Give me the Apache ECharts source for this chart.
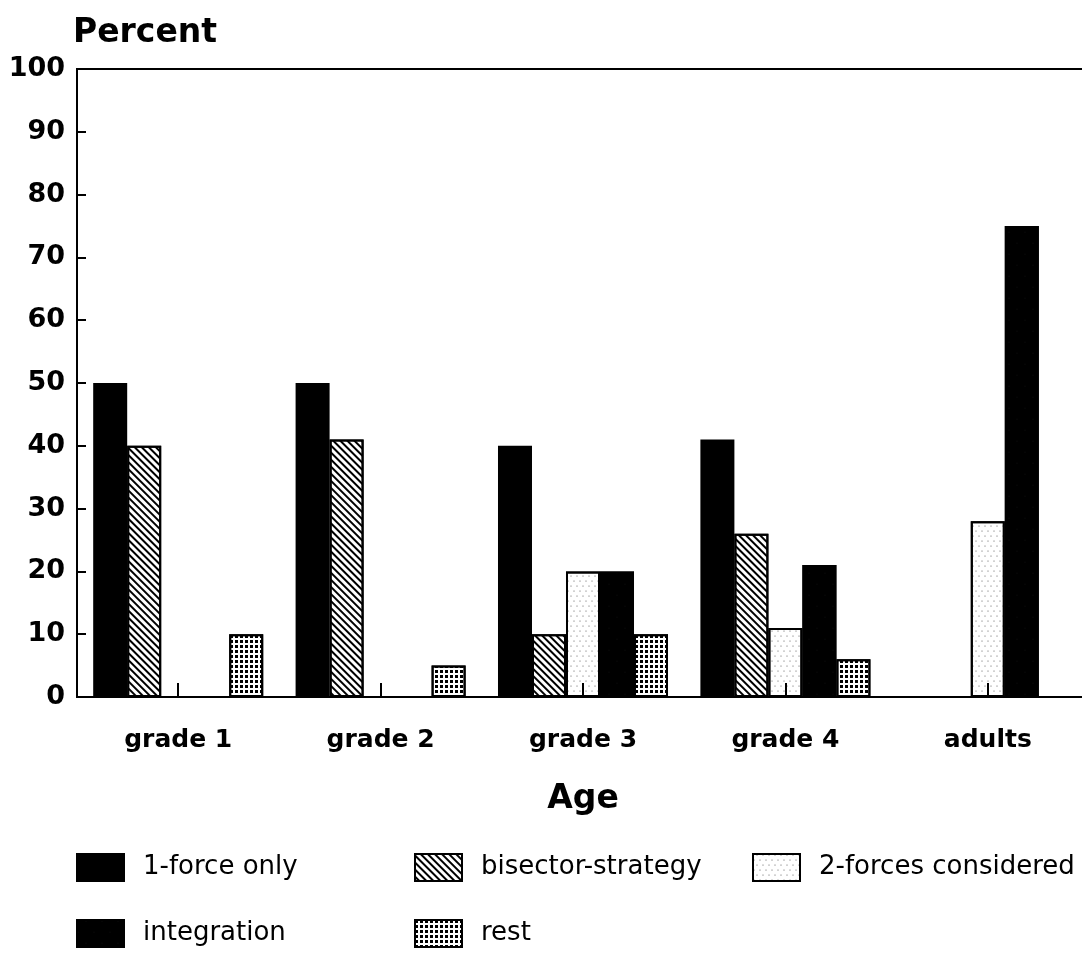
<!DOCTYPE html>
<html>
<head>
<meta charset="utf-8">
<script src="https://cdn.jsdelivr.net/npm/echarts@6/dist/echarts.min.js"></script>
<style>
  html, body { margin: 0; padding: 0; background: #fff; }
  #chart { width: 1082px; height: 957px; }
</style>
</head>
<body>
<div id="chart"></div>
<script>
const categories = ['grade 1', 'grade 2', 'grade 3', 'grade 4', 'adults']
const yTicks = [0, 10, 20, 30, 40, 50, 60, 70, 80, 90, 100]

const oneForce = [50, 50, 40, 41, 0]
const bisector = [40, 41, 10, 26, 0]
const twoForces = [0, 0, 20, 11, 28]
const integration = [0, 0, 20, 21, 75]
const rest = [10, 5, 10, 6, 0]

const boldFont = 'DejaVu Sans'
const plainFont = 'DejaVu Sans'

const chart = echarts.init(document.getElementById('chart'))

function bar(name, data, fill, decal) {
  const s = {
    name: name,
    type: 'bar',
    data: data,
    barGap: '0%',
    barCategoryGap: '16%',
    itemStyle: {
      color: fill,
      borderColor: '#000',
      borderWidth: 2
    }
  }
  if (decal) s.itemStyle.decal = decal
  return s
}

function legendAt(name, left, top) {
  return {
    data: [name],
    left: left,
    top: top,
    itemWidth: 47,
    itemHeight: 27,
    icon: 'rect',
    textStyle: {
      fontFamily: plainFont,
      fontSize: 26,
      color: '#000',
      padding: [2, 0, 0, 14]
    }
  }
}

const option = {
  animation: false,
  backgroundColor: '#fff',
  grid: {
    left: 77,
    top: 69,
    bottom: 260,
    width: 1012,
    outerBoundsMode: 'none',
    containLabel: false,
    show: true,
    borderColor: '#000',
    borderWidth: 2
  },
  legend: [
    legendAt('1-force only', 71, 848),
    legendAt('bisector-strategy', 409, 848),
    legendAt('2-forces considered', 747, 848),
    legendAt('integration', 71, 914),
    legendAt('rest', 409, 914)
  ],
  xAxis: {
    type: 'category',
    data: categories,
    z: 5,
    name: 'Age',
    nameLocation: 'middle',
    nameGap: 86,
    nameTextStyle: {
      fontFamily: boldFont,
      fontWeight: 'bold',
      fontSize: 33,
      color: '#000'
    },
    axisLine: { lineStyle: { color: '#000', width: 2 } },
    axisTick: { show: true, alignWithLabel: true, inside: true, length: 14, lineStyle: { color: '#000', width: 2 } },
    axisLabel: {
      margin: 31,
      fontFamily: boldFont,
      fontWeight: 'bold',
      fontSize: 25,
      color: '#000'
    }
  },
  yAxis: {
    type: 'value',
    min: yTicks[0],
    max: yTicks[yTicks.length - 1],
    interval: 10,
    name: 'Percent',
    nameLocation: 'end',
    nameGap: 19,
    nameTextStyle: {
      fontFamily: boldFont,
      fontWeight: 'bold',
      fontSize: 33,
      color: '#000',
      align: 'left',
      padding: [0, 0, 0, -4]
    },
    splitLine: { show: false },
    axisLine: { show: true, lineStyle: { color: '#000', width: 2 } },
    axisTick: { show: true, inside: true, length: 9, lineStyle: { color: '#000', width: 2 } },
    axisLabel: {
      margin: 12,
      fontFamily: boldFont,
      fontWeight: 'bold',
      fontSize: 27,
      color: '#000'
    }
  },
  series: [
    bar('1-force only', oneForce, '#000'),
    bar('bisector-strategy', bisector, '#fff', {
      symbol: 'rect',
      color: '#000',
      dashArrayX: [1, 0],
      dashArrayY: [2, 3],
      rotation: Math.PI / 4
    }),
    bar('2-forces considered', twoForces, '#fff', {
      symbol: 'circle',
      symbolSize: 0.5,
      color: '#333',
      dashArrayX: [[2, 4], [0, 3, 2, 1]],
      dashArrayY: [2, 3]
    }),
    bar('integration', integration, '#000', {
      symbol: 'circle',
      symbolSize: 0.3,
      color: '#444',
      dashArrayX: [[2, 14], [0, 8, 2, 6]],
      dashArrayY: [2, 9]
    }),
    bar('rest', rest, '#fff', {
      symbol: 'rect',
      symbolSize: 1,
      color: '#000',
      dashArrayX: [3, 2],
      dashArrayY: [3, 2]
    })
  ]
}

chart.setOption(option)
</script>
</body>
</html>
